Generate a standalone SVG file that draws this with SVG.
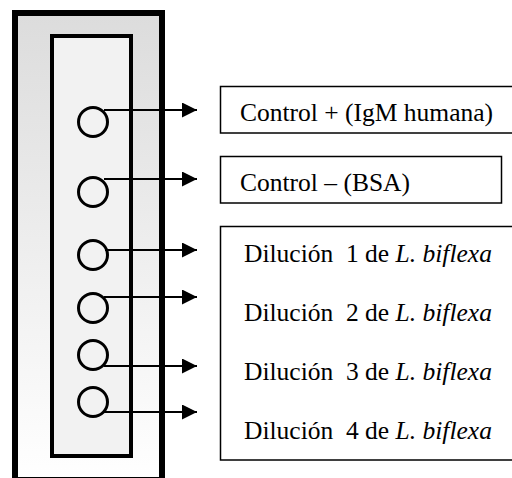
<svg xmlns="http://www.w3.org/2000/svg" width="512" height="478" viewBox="0 0 512 478">
<defs>
<linearGradient id="g" x1="0" y1="0" x2="0" y2="1">
<stop offset="0" stop-color="#dcdcdc"/>
<stop offset="1" stop-color="#ffffff"/>
</linearGradient>
<marker id="ah" markerWidth="16" markerHeight="16" refX="15" refY="7.5" orient="auto" markerUnits="userSpaceOnUse">
<path d="M0,0 L15,7.5 L0,15 Z" fill="#000"/>
</marker>
<style>
.well{fill:none;stroke:#000;stroke-width:3}
.box{fill:#fff;stroke:#000;stroke-width:1.5}
.t{font-family:"Liberation Serif","Times New Roman",serif;font-size:25.5px;fill:#000}
.i{font-style:italic}
.c{stroke:#000;stroke-width:1.8;fill:none;marker-end:url(#ah)}
</style>
</defs>
<rect x="0" y="0" width="512" height="478" fill="#fff"/>
<g id="strip">
<rect x="15" y="13" width="147" height="467" fill="url(#g)" stroke="#000" stroke-width="6"/>
<rect x="52" y="36" width="79" height="420" fill="#f2f2f2" stroke="#000" stroke-width="4"/>
</g>
<g id="wells">
<circle class="well" cx="93" cy="122" r="14.5"/>
<circle class="well" cx="93" cy="192" r="14.5"/>
<circle class="well" cx="93" cy="255" r="14.5"/>
<circle class="well" cx="93" cy="308" r="14.5"/>
<circle class="well" cx="93" cy="355" r="14.5"/>
<circle class="well" cx="93" cy="402" r="14.5"/>
</g>
<g id="connectors">
<line class="c" x1="104" y1="110" x2="197" y2="110"/>
<line class="c" x1="104" y1="179" x2="197" y2="179"/>
<line class="c" x1="105" y1="250" x2="197" y2="250"/>
<line class="c" x1="104" y1="297" x2="197" y2="297"/>
<line class="c" x1="104" y1="366" x2="197" y2="366"/>
<line class="c" x1="104" y1="412" x2="197" y2="412"/>
</g>
<g id="box1">
<rect class="box" x="220.5" y="86.5" width="300" height="46.5"/>
<text class="t" x="240" y="121">Control + (IgM humana)</text>
</g>
<g id="box2">
<rect class="box" x="220.5" y="156.5" width="281" height="46.5"/>
<text class="t" x="240" y="191">Control – (BSA)</text>
</g>
<g id="box3">
<rect class="box" x="220.5" y="226.5" width="300" height="233.5"/>
<text class="t" x="244" y="262" xml:space="preserve">Dilución  1 de <tspan class="i">L. biflexa</tspan></text>
<text class="t" x="244" y="321" xml:space="preserve">Dilución  2 de <tspan class="i">L. biflexa</tspan></text>
<text class="t" x="244" y="380" xml:space="preserve">Dilución  3 de <tspan class="i">L. biflexa</tspan></text>
<text class="t" x="244" y="439" xml:space="preserve">Dilución  4 de <tspan class="i">L. biflexa</tspan></text>
</g>
</svg>
